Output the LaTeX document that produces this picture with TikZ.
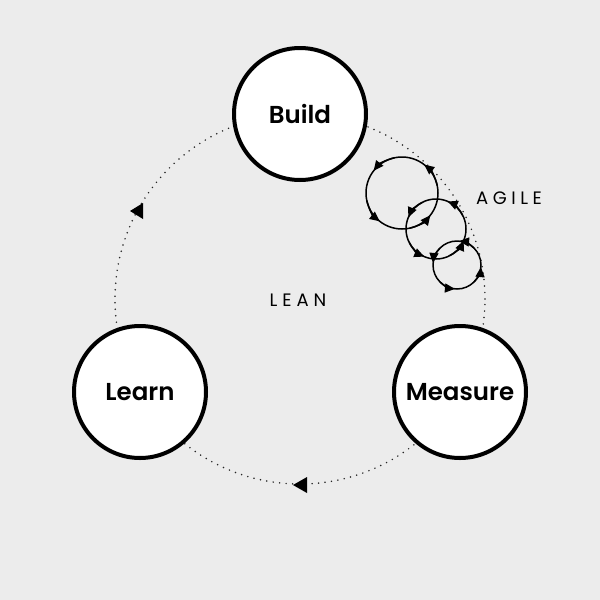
\documentclass[tikz,border=0pt]{standalone}
\usepackage{fontspec}
\setmainfont{Poppins}[BoldFont={Poppins SemiBold}]
\usetikzlibrary{arrows.meta}
\definecolor{bg}{RGB}{236,236,236}
\tikzset{
  phase/.style={circle, draw=black, fill=white, line width=4pt, minimum size=132pt, inner sep=0pt, font=\fontsize{24.5}{30}\selectfont\bfseries},
  orbit/.style={line width=1.7pt, line cap=round, dash pattern=on 0pt off 6.5pt, black!85},
  loopc/.style={line width=1.5pt, black},
  looptip/.style={line width=1.5pt, black, -{Triangle[length=10pt,width=9pt]}},
  tri/.style={fill=black},
  tag/.style={font=\fontsize{18}{20}\selectfont, inner sep=0pt}
}
% #1 centre, #2 radius, #3 first tip angle (tikz angle, clockwise on screen as it grows)
\newcommand{\agileloop}[3]{%
  \draw[loopc] (#1) circle[radius=#2];
  \foreach \k in {0,90,180,270}{
    \pgfmathsetmacro{\tipang}{#3+\k}
    \pgfmathsetmacro{\startang}{#3+\k-40}
    \draw[looptip] ([shift={(\startang:#2)}]#1) arc[start angle=\startang, end angle=\tipang, radius=#2];
  }}
\begin{document}
\begin{tikzpicture}[x=1pt,y=-1pt]
\fill[bg] (0,0) rectangle (600,600);
\useasboundingbox (0,0) rectangle (600,600);
\coordinate (ctr) at (300,299);
\draw[orbit] (ctr) circle[radius=185pt];
% agile loops
\coordinate (a1) at (402,193);
\coordinate (a2) at (436,229);
\coordinate (a3) at (457,265);
\agileloop{a1}{36pt}{52}
\agileloop{a2}{30pt}{67}
\agileloop{a3}{24pt}{85}
% flow arrows
\fill[tri] (143,203) -- (143,219) -- (130,211) -- cycle;
\fill[tri] (307,477) -- (307,493) -- (293,485) -- cycle;
% phases
\node[phase] (build) at (300,114) {Build};
\node[phase] (learn) at (140,392) {Learn};
\node[phase] (measure) at (460,392) {Measure};
% labels
\node[tag] (lean) at (298,300) {L\hspace{5pt}E\hspace{5pt}A\hspace{5pt}N};
\node[tag] (agile) at (509,198) {A\hspace{4.5pt}G\hspace{4.5pt}I\hspace{4.5pt}L\hspace{4.5pt}E};
\end{tikzpicture}
\end{document}
